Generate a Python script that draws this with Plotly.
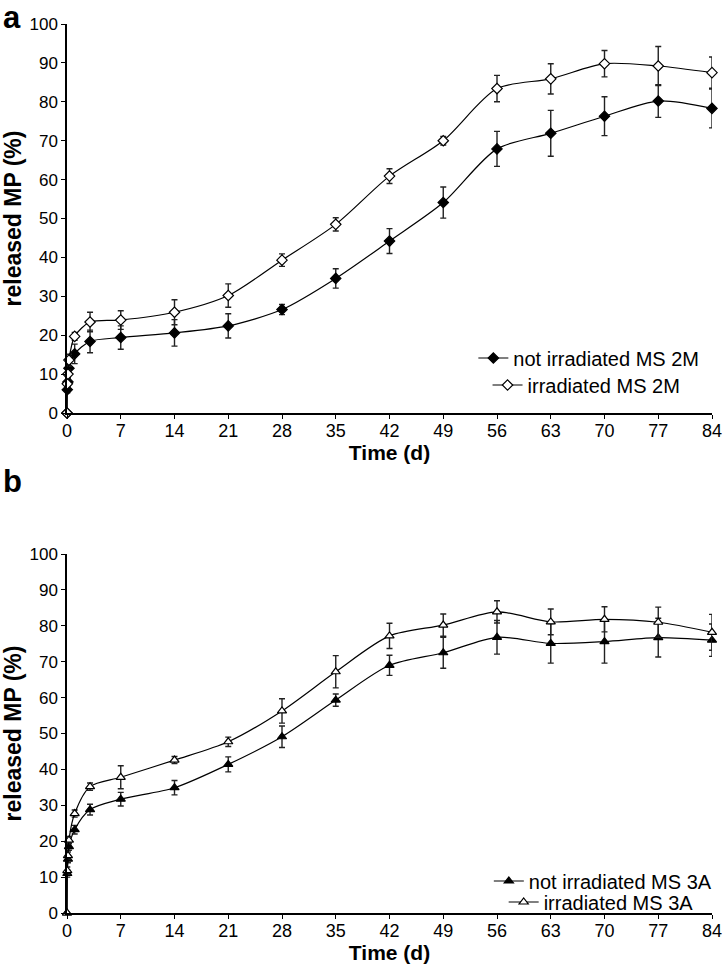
import plotly.graph_objects as go

# tempi di campionamento (giorni)
giorni = [0, 0.04, 0.125, 0.25, 1, 3, 7, 14, 21, 28, 35, 42, 49, 56, 63, 70, 77, 84]

# pannello a - MS 2M
non_irr_2M = [0, 6, 8, 11.5, 15.2, 18.4, 19.4, 20.6, 22.4, 26.6, 34.6, 44.2, 54.1, 67.9, 71.9, 76.3, 80.2, 78.3]
non_irr_2M_err = [0, 0.8, 1, 1.5, 2.5, 2.9, 3.0, 3.4, 3.1, 1.3, 2.5, 3.2, 4.0, 4.5, 5.9, 5.0, 4.2, 5.0]
irr_2M = [0, 7.5, 10, 13.6, 19.7, 23.4, 23.9, 25.9, 30.2, 39.3, 48.5, 60.9, 70.0, 83.4, 85.9, 89.8, 89.2, 87.5]
irr_2M_err = [0, 0.8, 1, 1.5, 1.0, 2.5, 2.4, 3.2, 3.0, 1.6, 1.7, 1.9, 1.1, 3.4, 3.9, 3.4, 5.0, 4.0]

# pannello b - MS 3A
non_irr_3A = [0, 11, 15, 18.5, 23.2, 28.8, 31.7, 34.9, 41.4, 49.1, 59.3, 69.0, 72.5, 76.8, 75.1, 75.6, 76.7, 76.0]
non_irr_3A_err = [0, 1, 1, 1, 1.2, 1.5, 1.9, 2.0, 2.1, 3.0, 1.7, 2.8, 4.3, 4.7, 5.5, 6.0, 5.4, 4.5]
irr_3A = [0, 11.8, 16, 20.3, 27.7, 35.2, 37.8, 42.6, 47.7, 56.3, 67.2, 77.2, 80.2, 83.9, 81.1, 81.8, 81.0, 78.2]
irr_3A_err = [0, 1, 1, 1, 1, 1, 3.2, 1.0, 1.3, 3.4, 4.5, 3.5, 3.1, 3.1, 3.6, 3.5, 4.2, 5.0]

tick_x = [0, 7, 14, 21, 28, 35, 42, 49, 56, 63, 70, 77, 84]

font = "Liberation Sans, Arial, sans-serif"


def serie(y, err, nome, simbolo, riempito, xa, ya, leg):
    return go.Scatter(
        x=giorni, y=y, name=nome, xaxis=xa, yaxis=ya, legend=leg, showlegend=True,
        mode="lines+markers", line=dict(color="black", width=1.2, shape="spline", smoothing=0.8),
        marker=dict(symbol=simbolo, size=8, color="black" if riempito else "white",
                    line=dict(color="black", width=1.2)),
        error_y=dict(type="data", array=err, color="#222", thickness=1.4, width=3),
        cliponaxis=False,
    )


fig = go.Figure()
fig.add_trace(serie(non_irr_2M, non_irr_2M_err, "not irradiated MS 2M", "diamond", True, "x", "y", "legend"))
fig.add_trace(serie(irr_2M, irr_2M_err, "irradiated MS 2M", "diamond", False, "x", "y", "legend2"))
fig.add_trace(serie(non_irr_3A, non_irr_3A_err, "not irradiated MS 3A", "triangle-up", True, "x2", "y2", "legend3"))
fig.add_trace(serie(irr_3A, irr_3A_err, "irradiated MS 3A", "triangle-up", False, "x2", "y2", "legend4"))

asse_x = dict(range=[0, 84], tickvals=tick_x, showline=True, linecolor="black", linewidth=1.5,
              ticks="outside", ticklen=4, tickcolor="black", showgrid=False, zeroline=False,
              tickfont=dict(size=18, color="black"), ticklabelstandoff=-3, ticklabeloverflow="allow",
              title=dict(text="<b>Time (d)</b>", font=dict(size=21, color="black"), standoff=0))
asse_y = dict(range=[0, 100], dtick=10, showline=True, linecolor="black", linewidth=1.5,
              ticks="outside", ticklen=4, tickcolor="black", showgrid=False, zeroline=False,
              tickfont=dict(size=17, color="black"),
              title=dict(text="<b>released MP (%)</b>", font=dict(size=23, color="black"), standoff=2))

leg = dict(font=dict(size=20, color="black"), bgcolor="rgba(0,0,0,0)",
           xanchor="left", yanchor="middle", itemwidth=30)

fig.update_layout(
    width=728, height=972,
    margin=dict(l=67, r=6, t=24, b=59),
    paper_bgcolor="white", plot_bgcolor="white",
    font=dict(family=font, color="black"),
    showlegend=True,
    xaxis=dict(asse_x, domain=[0, 1], anchor="y"),
    yaxis=dict(asse_y, domain=[0.5624, 1], anchor="x"),
    xaxis2=dict(asse_x, domain=[0, 1], anchor="y2"),
    yaxis2=dict(asse_y, domain=[0, 0.4038], anchor="x2"),
    # voci di legenda centrate come nell'originale
    legend=dict(leg, x=0.63, y=0.6243),
    legend2=dict(leg, x=0.652, y=0.5939),
    legend3=dict(leg, x=0.654, y=0.0360),
    legend4=dict(leg, x=0.677, y=0.0124),
    annotations=[
        dict(text="<b>a</b>", x=-0.103, y=1.029, xref="paper", yref="paper", showarrow=False,
             xanchor="left", yanchor="top", font=dict(size=31, color="black")),
        dict(text="<b>b</b>", x=-0.103, y=0.507, xref="paper", yref="paper", showarrow=False,
             xanchor="left", yanchor="top", font=dict(size=31, color="black")),
    ],
)

# la pagina di default ha un margine di 8px sul body
fig.write_html("out.html", config={"displayModeBar": False},
               post_script="document.body.style.margin='0';")
